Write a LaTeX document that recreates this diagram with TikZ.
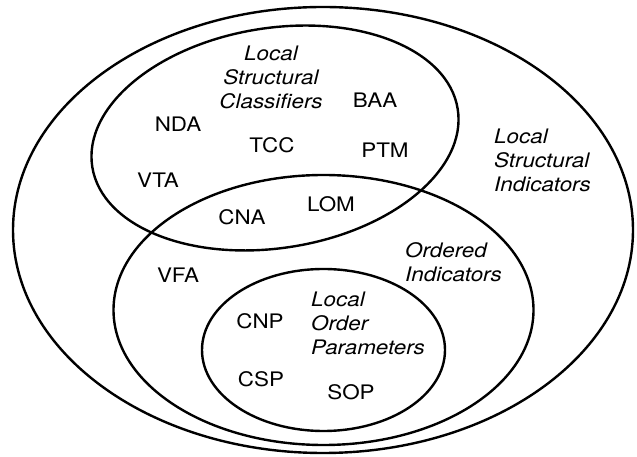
\documentclass[tikz,border=0pt]{standalone}
\usepackage{fontspec}
\setmainfont{TeX Gyre Heros}[FakeStretch=1.12]
\begin{document}
\begin{tikzpicture}[x=1pt, y=1pt, line width=2.4pt,
		font=\fontsize{20}{24}\selectfont,
		member/.style={inner sep=0pt},
		setname/.style={inner sep=0pt, anchor=north west, align=left, font=\fontsize{20}{24}\selectfont\itshape}]
		\useasboundingbox (0,0) rectangle (637,457);

		% Sets
		\draw (323,227) ellipse [x radius=310, y radius=223];
		\draw[rotate around={9:(275,319)}] (275,319) ellipse [x radius=185, y radius=110];
		\draw (323.5,147) ellipse [x radius=210, y radius=135];
		\draw (323.5,107) ellipse [x radius=121.5, y radius=81];

		% Set names
		\node[setname] (lsi) at (493,329.5) {Local\\Structural\\Indicators};
		\node[setname, anchor=north, align=center] (lsc) at (271,412.5) {Local\\Structural\\Classifiers};
		\node[setname] (oi) at (404,215.5) {Ordered\\Indicators};
		\node[setname] (lop) at (310,166.5) {Local\\Order\\Parameters};

		% Members
		\node[member] (nda) at (178,333) {NDA};
		\node[member] (tcc) at (272,312) {TCC};
		\node[member] (vta) at (158,277) {VTA};
		\node[member] (baa) at (375,357) {BAA};
		\node[member] (ptm) at (385,307) {PTM};
		\node[member] (cna) at (242,240) {CNA};
		\node[member] (lom) at (331,253) {LOM};
		\node[member] (vfa) at (178,182) {VFA};
		\node[member] (cnp) at (260,136) {CNP};
		\node[member] (csp) at (261,78) {CSP};
		\node[member] (sop) at (351,65) {SOP};
	\end{tikzpicture}
\end{document}
